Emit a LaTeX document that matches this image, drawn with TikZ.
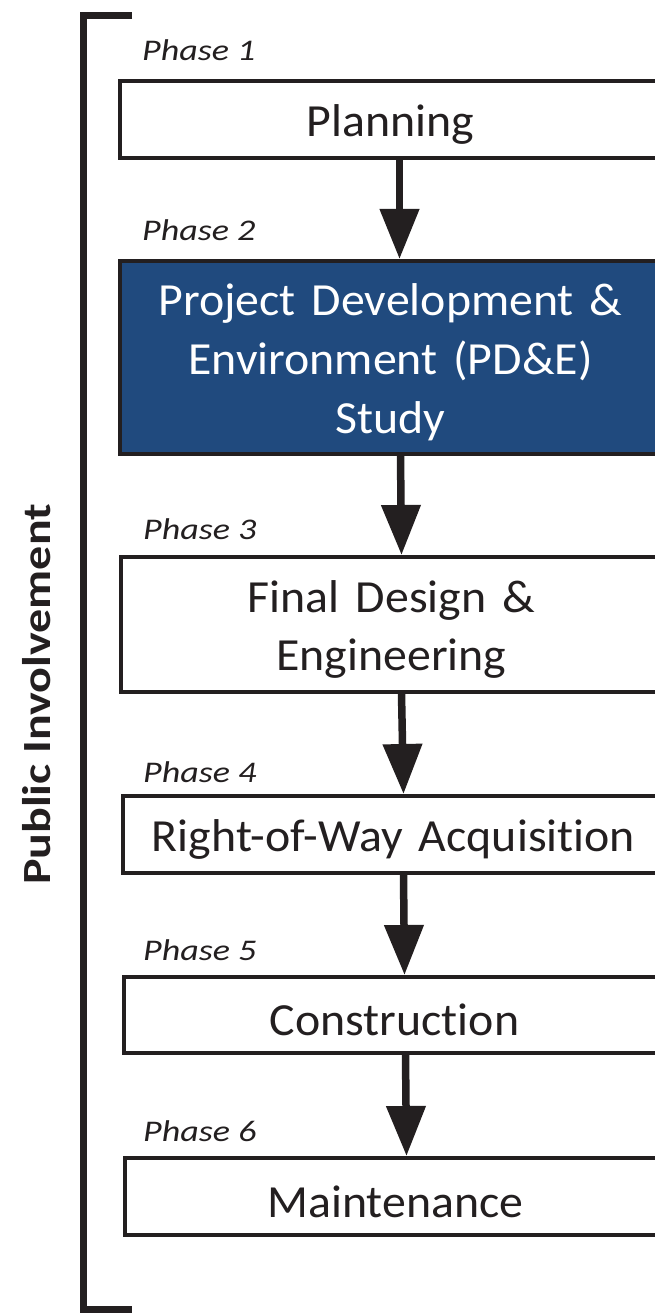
\documentclass[tikz,border=0pt]{standalone}
\usepackage{fontspec}
\setmainfont{Carlito}[Ligatures=NoCommon]
\usetikzlibrary{arrows.meta}
\definecolor{pdblue}{RGB}{32,74,126}
\definecolor{ink}{RGB}{35,31,32}
\newcommand{\wideline}[1]{\raisebox{-5pt}[\height][\depth]{\scalebox{1.04}[1]{#1}}}
\newcommand{\widephase}[1]{\scalebox{1.2}[1]{#1}}
\begin{document}
\begin{tikzpicture}[x=1pt,y=-1pt,
  phasebox/.style={draw=ink, line width=4pt, minimum width=541pt, inner sep=0pt, anchor=west,
    text width=536pt, align=center, font=\fontsize{46}{58}\selectfont, text=ink},
  phaselabel/.style={anchor=base west, inner sep=0pt, font=\itshape\fontsize{30}{32}\selectfont, text=ink},
  flow/.style={draw=ink, line width=7.5pt, -{Triangle[width=38pt,length=50pt]}},
]
\useasboundingbox (0,0) rectangle (654,1313);
% bracket
\draw[ink, line width=7pt, line join=miter] (132,15.5) -- (83,15.5) -- (83,1309.5) -- (132,1309.5);
\node[rotate=90, anchor=base, inner sep=0pt, font=\bfseries\fontsize{40}{40}\selectfont, text=ink] (pi) at (50,694.5) {\scalebox{1.2}[1]{Public Involvement}};
% boxes
\node[phasebox, minimum height=77pt] (b1) at (118,119.5) {\wideline{Planning}};
\node[phasebox, minimum height=193pt, fill=pdblue, text=white, font=\fontsize{46}{59}\selectfont] (b2) at (118,357.5) {\wideline{Project Development \&}\\\wideline{Environment (PD\&E)}\\\wideline{Study}};
\node[phasebox, minimum height=135pt, font=\fontsize{46}{58}\selectfont] (b3) at (119,624.5) {\wideline{Final Design \&}\\\wideline{Engineering}};
\node[phasebox, minimum height=77pt] (b4) at (121,834.5) {\wideline{Right-of-Way Acquisition}};
\node[phasebox, minimum height=76pt] (b5) at (122,1015) {\wideline{Construction}};
\node[phasebox, minimum height=77pt] (b6) at (123,1196.5) {\wideline{Maintenance}};
% phase labels
\node[phaselabel] (p1) at (142,61) {\widephase{Phase 1}};
\node[phaselabel] (p2) at (142,241) {\widephase{Phase 2}};
\node[phaselabel] (p3) at (143,539) {\widephase{Phase 3}};
\node[phaselabel] (p4) at (143,782) {\widephase{Phase 4}};
\node[phaselabel] (p5) at (143,960) {\widephase{Phase 5}};
\node[phaselabel] (p6) at (143,1141) {\widephase{Phase 6}};
% arrows
\draw[flow] ([xshift=9pt]b1.south) -- ([xshift=9pt]b2.north);
\draw[flow] ([xshift=10pt]b2.south) -- ([xshift=10pt]b3.north);
\draw[flow] ([xshift=10pt]b3.south) -- ([xshift=10pt]b4.north);
\draw[flow] ([xshift=10pt]b4.south) -- ([xshift=10pt]b5.north);
\draw[flow] ([xshift=11pt]b5.south) -- ([xshift=11pt]b6.north);
\end{tikzpicture}
\end{document}
